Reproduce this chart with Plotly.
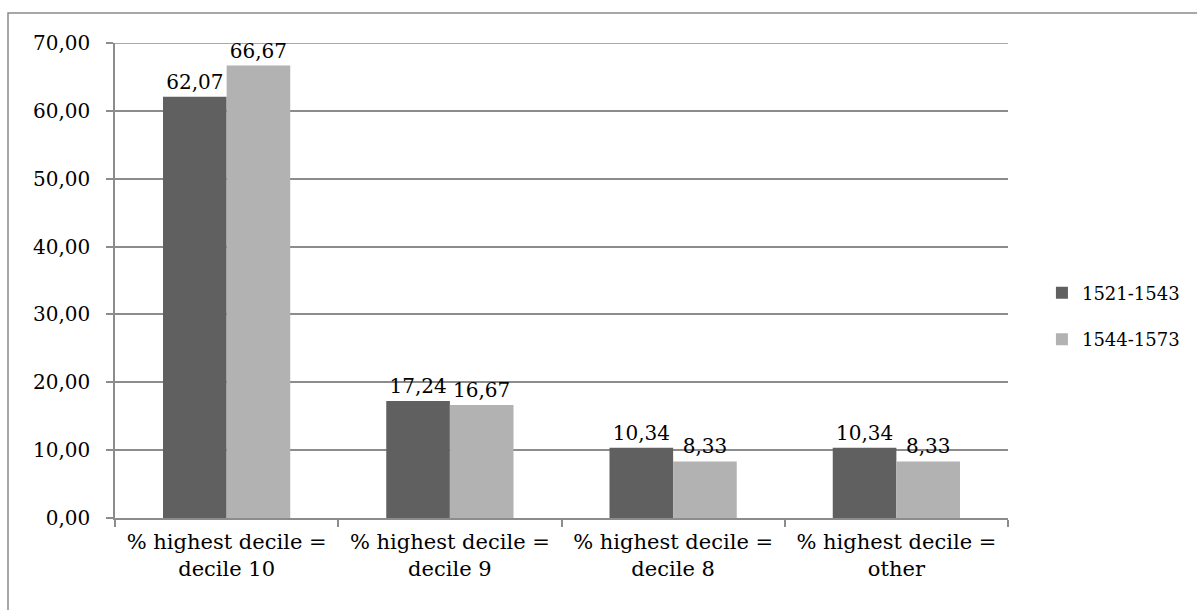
import plotly.graph_objects as go

# Share of cases by the decile holding the highest value, two periods
categories = [
    "% highest decile =<br>decile 10",
    "% highest decile =<br>decile 9",
    "% highest decile =<br>decile 8",
    "% highest decile =<br>other",
]
series_names = ["1521-1543", "1544-1573"]
values_1521_1543 = [62.07, 17.24, 10.34, 10.34]
values_1544_1573 = [66.67, 16.67, 8.33, 8.33]
y_ticks = [0, 10, 20, 30, 40, 50, 60, 70]

FONT = "DejaVu Serif"
GRID = "#8c8c8c"

fig = go.Figure()
for name, vals, color, grp in [
    (series_names[0], values_1521_1543, "#606060", "a"),
    (series_names[1], values_1544_1573, "#b2b2b2", "b"),
]:
    fig.add_trace(go.Bar(
        name=name,
        x=categories,
        y=vals,
        marker=dict(color=color, line=dict(width=0)),
        text=[f"{v:.2f}".replace(".", ",") for v in vals],
        textposition="outside",
        textfont=dict(family=FONT, size=20, color="#000000"),
        cliponaxis=False,
        legendgroup=grp,
    ))

# outer chart frame
fig.add_shape(
    type="rect", xref="paper", yref="paper",
    x0=(8 - 115) / 893, x1=(1205 - 115) / 893,
    y0=(518 - 620) / 475, y1=1 + (43 - 13) / 475,
    line=dict(color="#8a8a8a", width=1.5), fillcolor="rgba(0,0,0,0)",
    layer="below",
)
# gridline at the top of the value range
fig.add_shape(
    type="line", xref="paper", yref="y",
    x0=0, x1=1, y0=y_ticks[-1], y1=y_ticks[-1],
    line=dict(color=GRID, width=1.5), layer="below",
)

fig.update_layout(
    width=1197,
    height=610,
    margin=dict(l=115, r=189, t=43, b=92),
    paper_bgcolor="white",
    plot_bgcolor="white",
    separators=",.",
    barmode="group",
    bargap=0.43,
    bargroupgap=0,
    font=dict(family=FONT, size=20, color="#000000"),
    showlegend=True,
    legend=dict(
        x=1.038, y=0.425, xanchor="left", yanchor="middle",
        font=dict(family=FONT, size=18, color="#000000"),
        traceorder="grouped",
        tracegroupgap=20,
        bgcolor="rgba(0,0,0,0)",
    ),
    xaxis=dict(
        showline=True, linecolor=GRID, linewidth=1.5,
        ticks="outside", tickson="boundaries", ticklen=7,
        tickcolor=GRID, tickwidth=1.5,
        tickfont=dict(family=FONT, size=21),
        ticklabelstandoff=4,
        showgrid=False,
    ),
    yaxis=dict(
        range=[0, 70],
        tickvals=y_ticks,
        tickformat=".2f",
        showline=True, linecolor=GRID, linewidth=1.5,
        ticks="outside", ticklen=7, tickcolor=GRID, tickwidth=1.5,
        showgrid=True, gridcolor=GRID, gridwidth=1.5,
        zeroline=False,
        ticklabelstandoff=12,
        tickfont=dict(family=FONT, size=20),
    ),
)

fig.write_html("out.html")
